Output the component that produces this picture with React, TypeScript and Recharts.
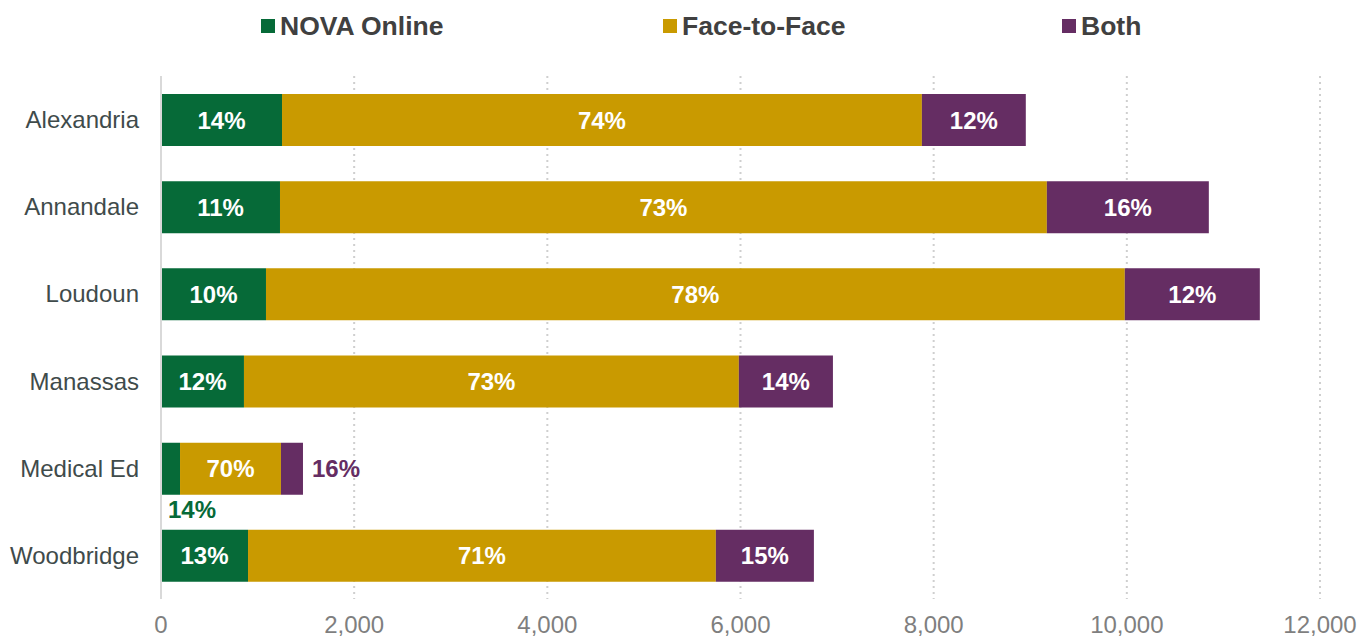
import React from "react";
import {
  Bar,
  BarChart,
  CartesianGrid,
  LabelList,
  Legend,
  XAxis,
  YAxis,
} from "recharts";

const campuses = ["Alexandria", "Annandale", "Loudoun", "Manassas", "Medical Ed", "Woodbridge"];
const online = [1253, 1232, 1087, 859, 197, 901];
const faceToFace = [6625, 7940, 8892, 5124, 1045, 4844];
const both = [1076, 1677, 1398, 974, 228, 1015];
const onlinePct = ["14%", "11%", "10%", "12%", "14%", "13%"];
const facePct = ["74%", "73%", "78%", "73%", "70%", "71%"];
const bothPct = ["12%", "16%", "12%", "14%", "16%", "15%"];
const xTicks = [0, 2000, 4000, 6000, 8000, 10000, 12000];

const GREEN = "#066a38";
const GOLD = "#c99a00";
const PURPLE = "#652d63";
const FONT = "'Liberation Sans', Arial, sans-serif";

const rows = campuses.map((name, i) => ({
  name,
  online: online[i],
  face: faceToFace[i],
  both: both[i],
  onlinePct: onlinePct[i],
  facePct: facePct[i],
  bothPct: bothPct[i],
}));

// the Medical Ed bar is too short, so its outer labels sit outside the bar
const SMALL = "Medical Ed";

function makeLabel(key: "onlinePct" | "facePct" | "bothPct", outside: "below" | "right" | null, color: string) {
  return (props: any) => {
    const { x, y, width, height, index } = props;
    const row = rows[index];
    const text = row[key];
    const base = { fontFamily: FONT, fontWeight: 700, fontSize: 24 };
    if (row.name === SMALL && outside === "below") {
      return (
        <text x={x + 7} y={y + height + 6} dy="0.71em" textAnchor="start" fill={color} style={base}>
          {text}
        </text>
      );
    }
    if (row.name === SMALL && outside === "right") {
      return (
        <text x={x + width + 9} y={y + height / 2} dy="0.36em" textAnchor="start" fill={color} style={base}>
          {text}
        </text>
      );
    }
    return (
      <text x={x + width / 2} y={y + height / 2} dy="0.36em" textAnchor="middle" fill="#ffffff" style={base}>
        {text}
      </text>
    );
  };
}

const legendItems = [
  { label: "NOVA Online", color: GREEN, left: 261 },
  { label: "Face-to-Face", color: GOLD, left: 663 },
  { label: "Both", color: PURPLE, left: 1062 },
];

function TopLegend() {
  return (
    <div style={{ position: "relative", height: 76, width: 1369 }}>
      {legendItems.map((it) => (
        <div
          key={it.label}
          style={{
            position: "absolute",
            left: it.left,
            top: 11,
            height: 30,
            display: "flex",
            alignItems: "center",
            fontFamily: FONT,
            fontWeight: 700,
            fontSize: 26.5,
            color: "#404040",
          }}
        >
          <span style={{ width: 14, height: 14, background: it.color, marginRight: 5, display: "inline-block" }} />
          {it.label}
        </div>
      ))}
    </div>
  );
}

export default function App() {
  return (
    <div style={{ position: "absolute", left: 0, top: 0, width: 1369, height: 642, background: "#fff" }}>
      <BarChart
        width={1369}
        height={642}
        data={rows}
        layout="vertical"
        margin={{ top: 0, right: 49, bottom: 0, left: 0 }}
        barSize={52}
      >
        <Legend verticalAlign="top" align="left" content={() => <TopLegend />} />
        <CartesianGrid horizontal={false} stroke="#cfcfcf" strokeWidth={2} strokeDasharray="2 4" />
        <XAxis
          type="number"
          domain={[0, 12000]}
          ticks={xTicks}
          axisLine={false}
          tickLine={false}
          height={43}
          tickMargin={11}
          tick={{ fill: "#7f7f7f", fontSize: 24, fontFamily: FONT }}
          tickFormatter={(v: number) => v.toLocaleString("en-US")}
        />
        <YAxis
          type="category"
          dataKey="name"
          width={161}
          axisLine={{ stroke: "#d9d9d9", strokeWidth: 2 }}
          tickLine={false}
          tickMargin={16}
          tick={{ fill: "#3f4b4b", fontSize: 24, fontFamily: FONT }}
        />
        <Bar dataKey="online" stackId="a" fill={GREEN} isAnimationActive={false}>
          <LabelList dataKey="onlinePct" content={makeLabel("onlinePct", "below", GREEN)} />
        </Bar>
        <Bar dataKey="face" stackId="a" fill={GOLD} isAnimationActive={false}>
          <LabelList dataKey="facePct" content={makeLabel("facePct", null, GOLD)} />
        </Bar>
        <Bar dataKey="both" stackId="a" fill={PURPLE} isAnimationActive={false}>
          <LabelList dataKey="bothPct" content={makeLabel("bothPct", "right", PURPLE)} />
        </Bar>
      </BarChart>
    </div>
  );
}
